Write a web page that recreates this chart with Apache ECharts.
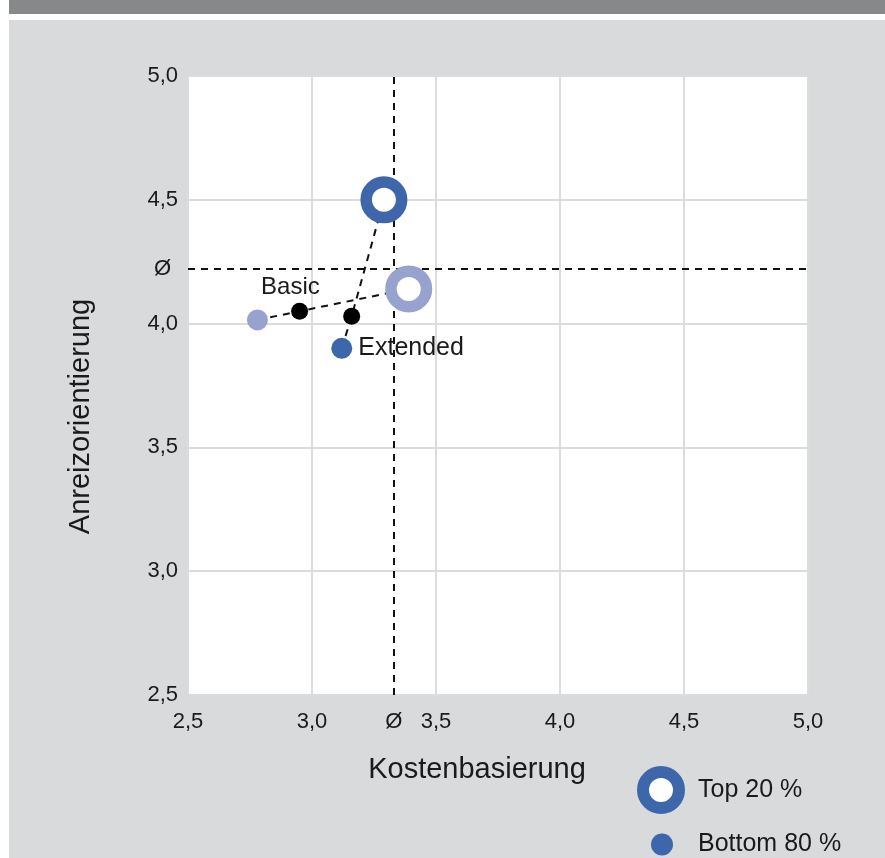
<!DOCTYPE html>
<html>
<head>
<meta charset="utf-8">
<script src="https://cdn.jsdelivr.net/npm/echarts@6/dist/echarts.min.js"></script>
<style>
html,body{margin:0;padding:0;background:#fff;}
#c{width:885px;height:858px;}
</style>
</head>
<body>
<div id="c"></div>
<script>
// ---- data ----
const xTicks = [2.5, 3.0, 3.5, 4.0, 4.5, 5.0];
const yTicks = [2.5, 3.0, 3.5, 4.0, 4.5, 5.0];
const avgX = 3.33;   // Ø Kostenbasierung
const avgY = 4.22;   // Ø Anreizorientierung
// [Kostenbasierung, Anreizorientierung]
const top20Basic = [3.39, 4.14];
const top20Extended = [3.29, 4.50];
const bottom80Basic = [2.78, 4.015];
const bottom80Extended = [3.12, 3.90];
const meanBasic = [2.95, 4.05];
const meanExtended = [3.16, 4.03];
const groupLabels = ['Basic', 'Extended'];
const legendNames = ['Top 20 %', 'Bottom 80 %'];

const DARK = '#3e66ab';
const LIGHT = '#98a2cf';
const FONT = '"Liberation Sans", Arial, Helvetica, sans-serif';
const TXT = '#1a1a1a';
const fmt = v => v.toFixed(1).replace('.', ',');

const chart = echarts.init(document.getElementById('c'));
const dash = {color: '#111', width: 2, type: [7, 6]};

chart.setOption({
  animation: false,
  backgroundColor: '#fff',
  textStyle: {fontFamily: FONT},
  graphic: [
    {type: 'rect', z: -10, shape: {x: 9, y: 0, width: 876, height: 14}, style: {fill: '#87888a'}},
    {type: 'rect', z: -10, shape: {x: 9, y: 20, width: 876, height: 838}, style: {fill: '#d9dadc'}}
  ],
  grid: {left: 188, right: 77, top: 76, bottom: 163, show: true, backgroundColor: '#fff', borderWidth: 0},
  legend: [
    {
      left: 632, top: 761, itemWidth: 48, itemHeight: 48, itemGap: 0,
      data: [{name: legendNames[0], icon: 'image://data:image/svg+xml;utf8,' + encodeURIComponent('<svg xmlns="http://www.w3.org/2000/svg" width="48" height="48"><circle cx="24" cy="24" r="18" fill="#fff" stroke="' + DARK + '" stroke-width="12"/></svg>')}],
      textStyle: {fontSize: 25, color: TXT, fontFamily: FONT, padding: [0, 0, 0, 8]}
    },
    {
      left: 646, top: 827, itemWidth: 22, itemHeight: 22, itemGap: 0,
      data: [{name: legendNames[1], icon: 'circle', itemStyle: {color: DARK, opacity: 1}}],
      textStyle: {fontSize: 25, color: TXT, fontFamily: FONT, padding: [0, 0, 0, 20]}
    }
  ],
  xAxis: {
    type: 'value', min: xTicks[0], max: xTicks[xTicks.length - 1], interval: 0.5,
    name: 'Kostenbasierung', nameLocation: 'middle', nameGap: 60,
    nameTextStyle: {fontSize: 29, color: TXT, fontFamily: FONT, padding: [0, 42, 0, 0]},
    axisLine: {show: false}, axisTick: {show: false},
    axisLabel: {formatter: fmt, fontSize: 22, color: TXT, margin: 16, fontFamily: FONT},
    splitLine: {show: true, lineStyle: {color: '#dcdcdc', width: 2}}
  },
  yAxis: {
    type: 'value', min: yTicks[0], max: yTicks[yTicks.length - 1], interval: 0.5,
    name: 'Anreizorientierung', nameLocation: 'middle', nameGap: 93,
    nameTextStyle: {fontSize: 29, color: TXT, fontFamily: FONT, padding: [0, 62, 0, 0]},
    axisLine: {show: false}, axisTick: {show: false},
    axisLabel: {formatter: fmt, fontSize: 22, color: TXT, margin: 10, fontFamily: FONT},
    splitLine: {show: true, lineStyle: {color: '#dcdcdc', width: 2}}
  },
  series: [
    {
      type: 'line', name: 'avg', silent: true, data: [], symbol: 'none',
      markLine: {
        silent: true, symbol: 'none', animation: false,
        lineStyle: dash,
        data: [
          {xAxis: avgX, label: {show: true, position: 'start', formatter: 'Ø', fontSize: 22, color: TXT, distance: 16, fontFamily: FONT}},
          {yAxis: avgY, label: {show: true, position: 'start', formatter: 'Ø', fontSize: 22, color: TXT, distance: 17, fontFamily: FONT}}
        ]
      }
    },
    {
      type: 'line', name: 'basicLine', silent: true, symbol: 'none',
      data: [bottom80Basic, meanBasic, top20Basic], lineStyle: dash, z: 3
    },
    {
      type: 'line', name: 'extLine', silent: true, symbol: 'none',
      data: [bottom80Extended, meanExtended, top20Extended], lineStyle: dash, z: 3
    },
    {
      type: 'scatter', name: legendNames[0], symbolSize: 35.5, z: 5,
      itemStyle: {color: '#fff', borderColor: DARK, borderWidth: 11.5, opacity: 1},
      data: [
        {value: top20Basic, itemStyle: {color: '#fff', borderColor: LIGHT, opacity: 1}},
        {value: top20Extended, itemStyle: {color: '#fff', borderColor: DARK, opacity: 1}}
      ]
    },
    {
      type: 'scatter', name: legendNames[1], symbolSize: 21, z: 5,
      itemStyle: {color: DARK, opacity: 1},
      data: [
        {value: bottom80Basic, itemStyle: {color: LIGHT, opacity: 1}},
        {value: bottom80Extended, itemStyle: {color: DARK, opacity: 1},
         label: {show: true, formatter: groupLabels[1], position: 'right', distance: 6, fontSize: 25, color: TXT, fontFamily: FONT}}
      ]
    },
    {
      type: 'scatter', name: 'mean', symbolSize: 17, z: 6,
      itemStyle: {color: '#000', opacity: 1},
      data: [
        {value: meanBasic, label: {show: true, formatter: groupLabels[0], position: [-30, -27], fontSize: 24, color: TXT, fontFamily: FONT}},
        {value: meanExtended}
      ]
    }
  ]
});
</script>
</body>
</html>
